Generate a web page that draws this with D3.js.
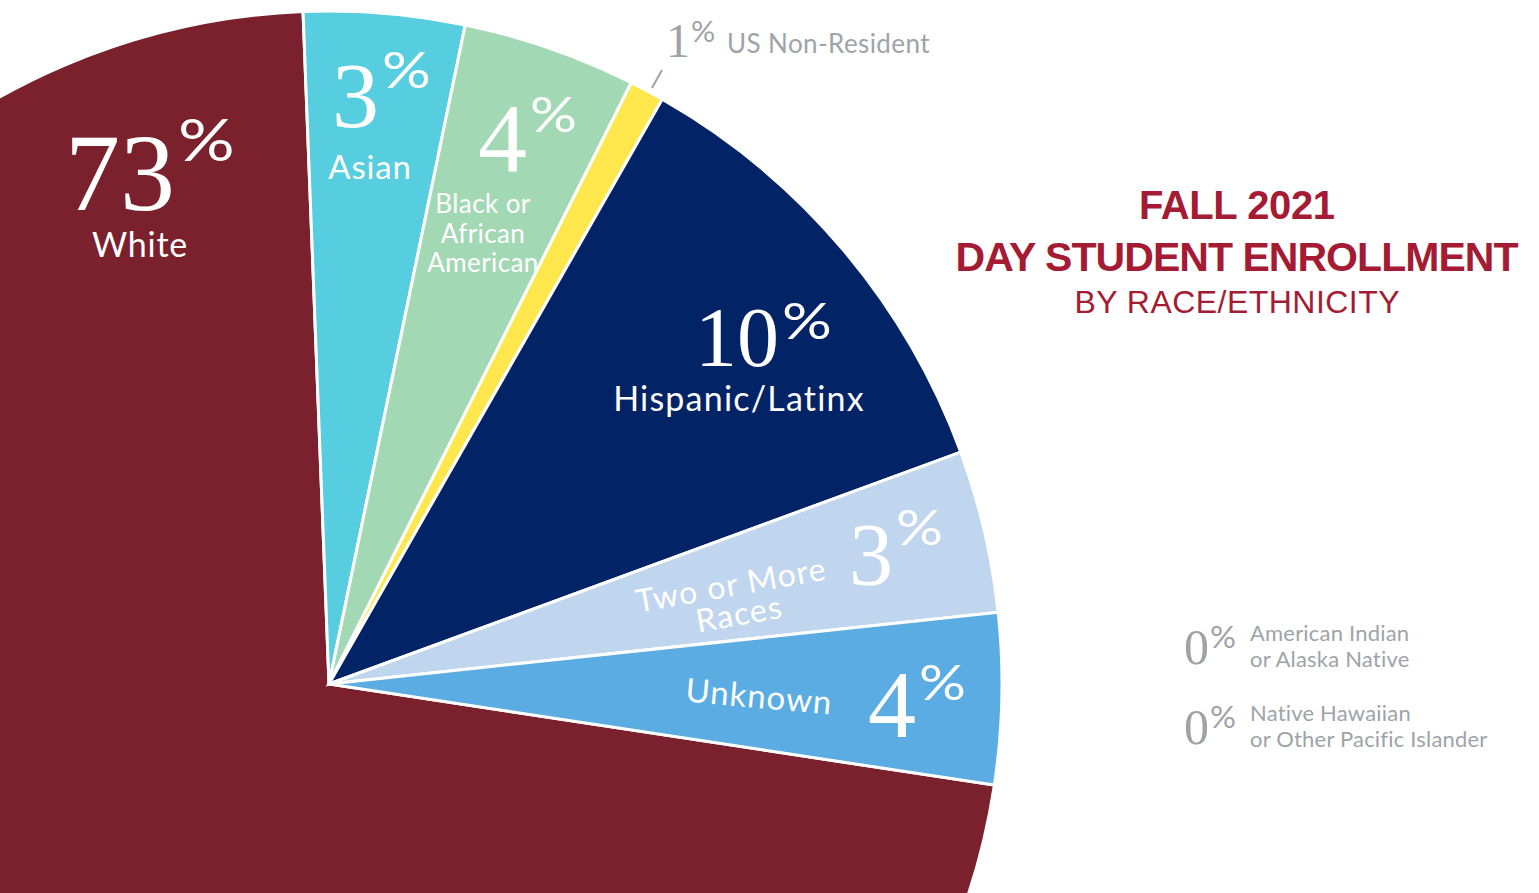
<!DOCTYPE html>
<html>
<head>
<meta charset="utf-8">
<script src="https://cdn.jsdelivr.net/npm/d3@7/dist/d3.min.js"></script>
<style>
  html, body { margin: 0; padding: 0; background: #fff; overflow: hidden; }
  svg { display: block; }
</style>
</head>
<body>
<svg id="chart" width="1539" height="893"></svg>
<script>
// ---- Data ----
const categories = ["White", "Asian", "Black or African American", "US Non-Resident",
                    "Hispanic/Latinx", "Two or More Races", "Unknown"];
// slice sizes as drawn (share of the circle, %)
const sliceValues = [72.0, 3.86, 4.17, 0.83, 11.16, 3.9, 4.1];
// percentages printed on the chart
const labelPercents = [73, 3, 4, 1, 10, 3, 4];
const colors = ["#7B212D", "#56CEE0", "#A3D8B5", "#FDE74C", "#022366", "#C0D5EE", "#5AACE3"];
// categories with zero share, listed at the side
const zeroCategories = [["American Indian", "or Alaska Native"], ["Native Hawaiian", "or Other Pacific Islander"]];
const zeroPercents = [0, 0];
const titleLines = ["FALL 2021", "DAY STUDENT ENROLLMENT", "BY RACE/ETHNICITY"];

// ---- Layout ----
const svg = d3.select("#chart");
const cx = 329, cy = 684, R = 673;
const startDeg = 98.64;
const serif = "'Liberation Serif', 'DejaVu Serif', serif";
const sans = "Lato, 'Open Sans', sans-serif";
const grey = "#9EA3A8";
const crimson = "#A51B33";

const pie = d3.pie().sort(null).value(d => d)
  .startAngle(startDeg * Math.PI / 180)
  .endAngle(startDeg * Math.PI / 180 + 2 * Math.PI);
const arc = d3.arc().innerRadius(0).outerRadius(R);
const color = d3.scaleOrdinal().domain(categories).range(colors);

const g = svg.append("g").attr("transform", `translate(${cx},${cy})`);
g.selectAll("path").data(pie(sliceValues)).join("path")
  .attr("d", arc)
  .attr("fill", (d, i) => color(categories[i]))
  .attr("stroke", "#fff")
  .attr("stroke-width", 3)
  .attr("stroke-linejoin", "miter");

// ---- Percent labels ----
// [index, numberRightX, numberBaseline, numberSize, pctBaseline, pctSize]
const pctLayout = [
  [0, 175, 210, 110, 161, 58],
  [1, 379, 127, 94, 88, 50],
  [2, 527, 171, 98, 132, 48],
  [3, 690, 57, 48, 42, 28],
  [4, 779, 366, 84, 339, 51],
  [5, 893, 584, 88, 545, 48],
  [6, 916, 737, 96, 700, 48]
];
function pctLabel(x, y, num, nSize, pY, pSize, fill) {
  const small = pSize < 35;
  svg.append("text").attr("x", x).attr("y", y)
    .attr("text-anchor", "end").attr("font-family", serif)
    .attr("font-size", nSize).attr("fill", fill).text(num);
  svg.append("text")
    .attr("transform", `translate(${x + (small ? 1 : 3)},${pY}) scale(${small ? 1.08 : 1.22},1)`)
    .attr("font-family", sans).attr("font-weight", 400)
    .attr("font-size", pSize).attr("fill", fill).text("%");
}
pctLayout.forEach(([i, x, y, ns, py, ps]) => {
  pctLabel(x, y, labelPercents[i], ns, py, ps, i === 3 ? grey : "#fff");
});

// ---- Category labels ----
function catText(x, y, lines, size, opts = {}) {
  const t = svg.append("text")
    .attr("font-family", sans).attr("font-size", size)
    .attr("font-weight", opts.weight || 400)
    .attr("letter-spacing", opts.ls == null ? 0.8 : opts.ls)
    .attr("fill", opts.fill || "#fff")
    .attr("text-anchor", opts.anchor || "middle")
    .attr("transform", `translate(${x},${y}) rotate(${opts.rotate || 0})`);
  lines.forEach((l, k) => {
    t.append("tspan").attr("x", opts.dx ? opts.dx[k] : 0).attr("y", k * (opts.lh || size)).text(l);
  });
  return t;
}
catText(140, 257, [categories[0]], 34);
catText(370, 179, [categories[1]], 33);
catText(483, 213, ["Black or", "African", "American"], 26, { lh: 29.5, ls: 0.4 });
catText(727, 53, [categories[3]], 26, { anchor: "start", fill: grey, ls: 0.4 });
catText(739, 411, [categories[4]], 34, { ls: 1.2 });
catText(733, 596, ["Two or More", "Races"], 32, { rotate: -10, lh: 30, dx: [0, 3], ls: 1.2 });
catText(758, 708, [categories[6]], 33, { rotate: 5, ls: 1 });

// leader line for US Non-Resident
svg.append("line").attr("x1", 652).attr("y1", 88).attr("x2", 662).attr("y2", 70)
  .attr("stroke", grey).attr("stroke-width", 2);

// ---- Zero categories ----
zeroCategories.forEach((lines, k) => {
  const base = 664 + k * 80;
  pctLabel(1209, base, zeroPercents[k], 50, base - 16, 30, grey);
  catText(1250, base - 23, lines, 22, { anchor: "start", fill: grey, lh: 26, ls: 0.2 });
});

// ---- Title ----
svg.append("text").attr("x", 1237).attr("y", 219).attr("text-anchor", "middle")
  .attr("font-family", "'Liberation Sans', Arial, sans-serif").attr("font-weight", 700)
  .attr("font-size", 40).attr("fill", crimson)
  .attr("textLength", 196).attr("lengthAdjust", "spacing").text(titleLines[0]);
svg.append("text").attr("x", 1237).attr("y", 271).attr("text-anchor", "middle")
  .attr("font-family", "'Liberation Sans', Arial, sans-serif").attr("font-weight", 700)
  .attr("font-size", 41).attr("fill", crimson)
  .attr("textLength", 563).attr("lengthAdjust", "spacing").text(titleLines[1]);
svg.append("text").attr("x", 1237).attr("y", 313).attr("text-anchor", "middle")
  .attr("font-family", "'Liberation Sans', Arial, sans-serif").attr("font-weight", 400)
  .attr("font-size", 32).attr("fill", crimson)
  .attr("textLength", 325).attr("lengthAdjust", "spacing").text(titleLines[2]);
</script>
</body>
</html>
